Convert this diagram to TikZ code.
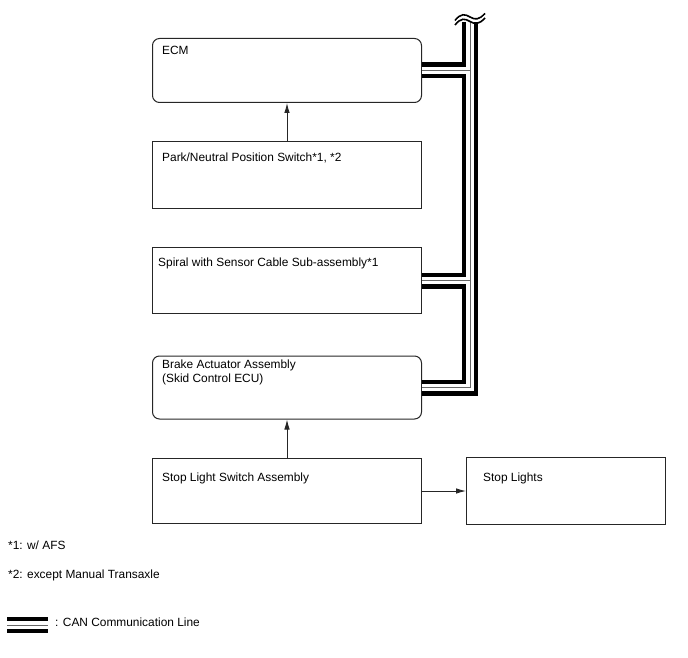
\documentclass[tikz,border=0pt]{standalone}
\usepackage{fontspec}
\setmainfont{Liberation Sans}
\usetikzlibrary{arrows.meta}
\begin{document}
\begin{tikzpicture}[x=1pt,y=-1pt,
  box/.style={draw=black!85,line width=1pt,minimum width=269pt,inner sep=0pt,anchor=north west},
  rbox/.style={box,rounded corners=7pt},
  txt/.style={anchor=base west,inner sep=0pt,font=\fontsize{11.9pt}{14pt}\selectfont},
  arr/.style={draw=black!85,line width=0.9pt,-{Latex[length=10pt,width=5.5pt]}},
  canouter/.style={line width=16pt,black},
  caninner/.style={line width=7.5pt,white},
  canmid/.style={line width=0.9pt,black!60},
  wave/.style={line width=1.6pt,black}]
\useasboundingbox (0,0) rectangle (688,658);
% boxes
\node[rbox,minimum height=64pt] (ecm) at (152,38) {};
\node[box,minimum height=66pt] (pn) at (152,141.5) {};
\node[box,minimum height=66pt] (sp) at (152,247) {};
\node[rbox,minimum height=63pt] (ba) at (152,355.5) {};
\node[box,minimum height=65pt] (sls) at (152,458) {};
\node[box,minimum width=199pt,minimum height=67pt] (sl) at (466,457) {};
% texts
\node[txt] (tecm) at (162,54.5) {ECM};
\node[txt] (tpn) at (162,161) {Park/Neutral Position Switch*1, *2};
\node[txt] (tsp) at (158,266) {Spiral with Sensor Cable Sub-assembly*1};
\node[txt] (tba1) at (162,368.5) {Brake Actuator Assembly};
\node[txt] (tba2) at (162,382.5) {(Skid Control ECU)};
\node[txt] (tsls) at (162,481) {Stop Light Switch Assembly};
\node[txt] (tsl) at (483,481) {Stop Lights};
\node[txt] (n1) at (8,549) {*1: w/ AFS};
\node[txt] (n2) at (8,578) {*2: except Manual Transaxle};
\node[txt] (leg) at (55,626) {: CAN Communication Line};
% arrows
\draw[arr] (pn.north) -- (ecm.south);
\draw[arr] (sls.north) -- (ba.south);
\draw[arr] (sls.east) -- (sl.west);
% CAN lines
\coordinate (top) at (470,22);
\coordinate (l1) at (7,625);
\coordinate (l2) at (48,625);
\foreach \s in {canouter,caninner,canmid}{
  \draw[\s] (top) |- (ba.east);
  \draw[\s] (ecm.east) -- (ecm.east -| top);
  \draw[\s] (sp.east) -- (sp.east -| top);
  \draw[\s] (l1) -- (l2);
}
% break mark
\draw[wave] (455,20.5) .. controls (461,13) and (465,14) .. (470,17) .. controls (475,20) and (479,20) .. (485,13.5);
\draw[wave] (455,25) .. controls (461,17.5) and (465,18.5) .. (470,21.5) .. controls (475,24.5) and (479,24.5) .. (485,18);
\fill[white] (455,22.6) .. controls (461,15.1) and (465,16.1) .. (470,19.1) .. controls (475,22.1) and (479,22.1) .. (485,15.6) -- (485,15) .. controls (479,21.5) and (475,21.5) .. (470,18.5) .. controls (465,15.5) and (461,14.5) .. (455,22) -- cycle;
\end{tikzpicture}
\end{document}
